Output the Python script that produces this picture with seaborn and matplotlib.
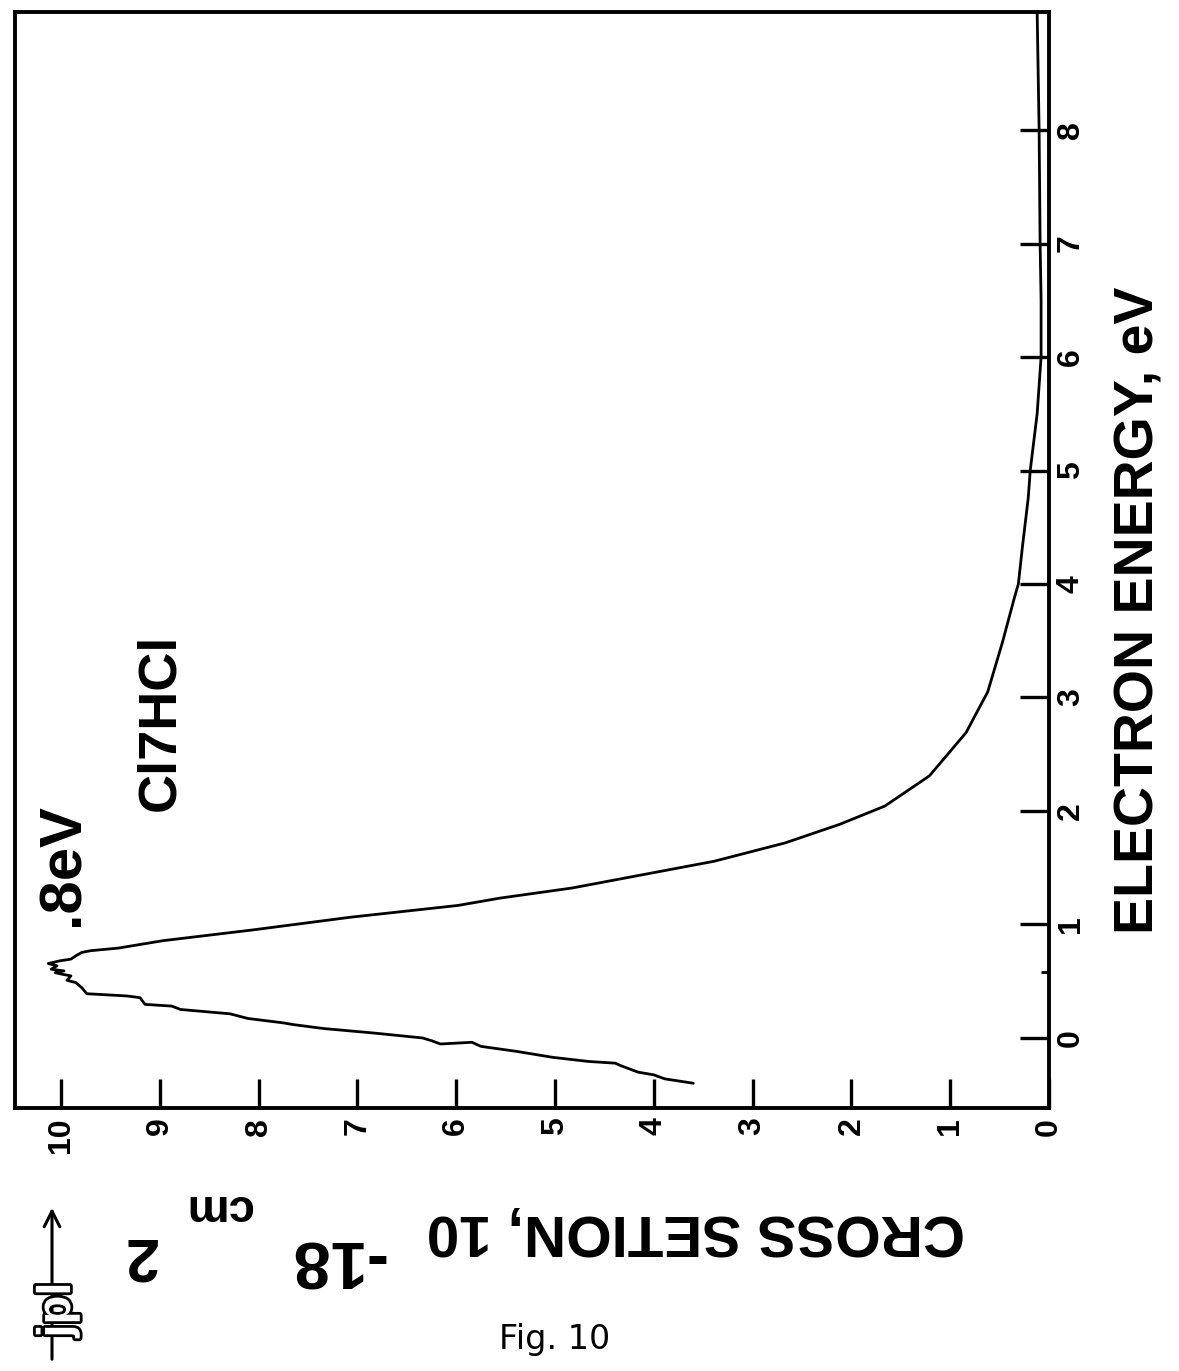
import matplotlib
matplotlib.use("Agg")
import matplotlib.pyplot as plt
from matplotlib import font_manager
from matplotlib.patches import FancyArrowPatch
import matplotlib.patheffects as pe
import seaborn as sns
import pandas as pd

# Electron attachment cross section of Cl7HCl versus electron energy
energy_ev = [-0.399, -0.360, -0.325, -0.301, -0.242, -0.222, -0.207, -0.171, -0.118, -0.074,
             -0.038, -0.053, -0.024, 0.000, 0.044, 0.083, 0.118, 0.133, 0.172, 0.213,
             0.251, 0.281, 0.296, 0.355, 0.370, 0.390, 0.443, 0.488, 0.508, 0.547,
             0.562, 0.576, 0.591, 0.606, 0.636, 0.656, 0.680, 0.695, 0.724, 0.754,
             0.769, 0.792, 0.857, 0.952, 1.064, 1.168, 1.232, 1.321, 1.439, 1.557,
             1.719, 1.882, 2.044, 2.31, 2.69, 3.05, 3.49, 3.88, 4.00, 4.32,
             4.76, 5.00, 5.50, 6.00, 6.50, 7.00, 8.00, 9.04]
cross_section = [3.60, 3.89, 4.00, 4.16, 4.34, 4.39, 4.66, 5.02, 5.39, 5.75,
                 5.84, 6.16, 6.25, 6.34, 6.84, 7.34, 7.65, 7.75, 8.11, 8.29,
                 8.79, 8.88, 9.15, 9.20, 9.33, 9.74, 9.79, 9.85, 9.94, 9.90,
                 9.99, 10.06, 9.97, 10.10, 10.04, 10.13, 10.01, 9.90, 9.85, 9.79,
                 9.70, 9.42, 8.97, 8.06, 7.07, 5.98, 5.56, 4.83, 4.11, 3.39,
                 2.67, 2.12, 1.66, 1.21, 0.84, 0.62, 0.47, 0.35, 0.31, 0.27,
                 0.21, 0.19, 0.12, 0.08, 0.08, 0.09, 0.10, 0.12]
energy_ticks = [0, 1, 2, 3, 4, 5, 6, 7, 8]
cross_ticks = [0, 1, 2, 3, 4, 5, 6, 7, 8, 9, 10]
peak_marker_ev = [0.58]

sns.set_theme(style="white")
plt.rcParams["font.family"] = ["Liberation Sans", "DejaVu Sans"]

available = {f.name for f in font_manager.fontManager.ttflist}
narrow = "Liberation Sans Narrow" if "Liberation Sans Narrow" in available else "Liberation Sans"

W, H = 1179, 1371
fig = plt.figure(figsize=(W / 100, H / 100), dpi=100)
fig.patch.set_facecolor("white")

# the page is laid out sideways: energy runs up, cross section runs to the left
ax = fig.add_axes([15 / W, (H - 1108) / H, (1049 - 15) / W, (1108 - 12) / H])
ax.set_facecolor("white")

df = pd.DataFrame({"cross": cross_section, "energy": energy_ev})
sns.lineplot(data=df, x="cross", y="energy", sort=False, estimator=None,
             color="black", lw=2.0, ax=ax)

ax.set_xlim(10.466, 0)
ax.set_ylim(-0.617, 9.04)
ax.set_xlabel("")
ax.set_ylabel("")

for s in ax.spines.values():
    s.set_visible(True)
    s.set_color("black")
    s.set_linewidth(2.8)

ax.set_xticks(cross_ticks)
ax.set_xticklabels([str(t) for t in cross_ticks])
ax.set_yticks(energy_ticks)
ax.set_yticklabels([str(t) for t in energy_ticks])
ax.set_yticks(peak_marker_ev, minor=True)
ax.yaxis.tick_right()

ax.tick_params(axis="both", which="major", direction="in", length=21, width=2.4,
               color="black", labelsize=23, labelcolor="black")
ax.tick_params(axis="x", bottom=True, top=False, pad=7, labelrotation=90)
ax.tick_params(axis="y", which="major", right=True, left=False, pad=5, labelrotation=90)
ax.tick_params(axis="y", which="minor", right=True, left=False, direction="in",
               length=6, width=2.0, color="black")
ax.tick_params(axis="x", which="minor", bottom=False, top=False)

for lab in ax.get_xticklabels() + ax.get_yticklabels():
    lab.set_fontfamily(narrow)
    lab.set_fontweight("bold")
for lab in ax.get_yticklabels():
    lab.set_va("center")


def put(x, y, s, **kw):
    fig.text(x / W, 1 - y / H, s, ha="center", va="center", color="black", **kw)


# axis titles and annotations
put(1140, 610, "ELECTRON ENERGY, eV", rotation=90, fontsize=40,
    fontweight="bold", family="Liberation Sans")
put(160, 722, "Cl7HCl", rotation=90, fontsize=39, fontweight="bold",
    family="Liberation Sans")
put(63, 865, ".8eV", rotation=90, fontsize=43, fontweight="bold",
    family="Liberation Sans")

put(696, 1230, "CROSS SETION, 10", rotation=180, fontsize=42,
    fontweight="bold", family="Liberation Sans")
put(336, 1258, "-18", rotation=180, fontsize=48, fontweight="bold",
    family="Liberation Sans")
put(218, 1207, "cm", rotation=180, fontsize=34, fontweight="bold",
    family="Liberation Sans")
put(139, 1253, "2", rotation=180, fontsize=44, fontweight="bold",
    family="Liberation Sans")

put(555, 1340, "Fig. 10", fontsize=24, family="DejaVu Sans")

# laboratory mark with orientation arrow
fig.add_artist(FancyArrowPatch((52 / W, 1 - 1362 / H), (52 / W, 1 - 1205 / H),
                               transform=fig.transFigure, arrowstyle="->",
                               mutation_scale=28, lw=2.2, color="black"))
logo = fig.text(58 / W, 1 - 1310 / H, "jpl", rotation=90, ha="center", va="center",
                fontsize=34, fontweight="bold", family="Liberation Sans", color="white")
logo.set_path_effects([pe.withStroke(linewidth=4, foreground="black")])

fig.savefig("out.png", dpi=100, facecolor="white")
